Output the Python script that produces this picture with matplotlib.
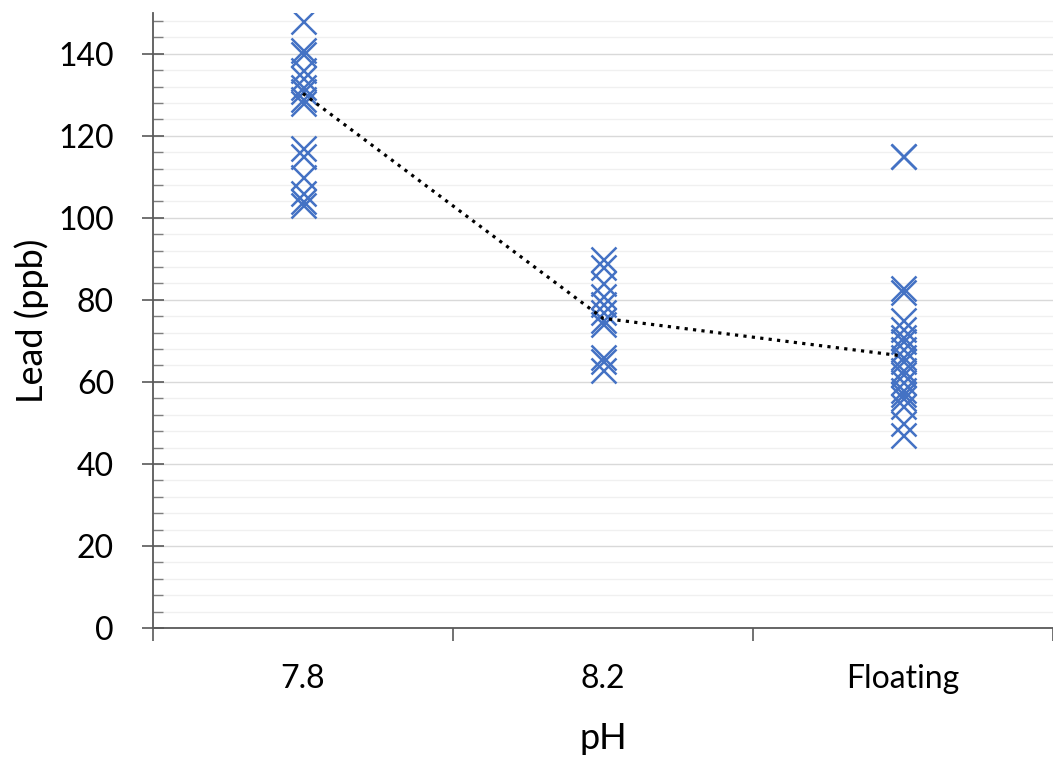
import matplotlib.pyplot as plt
from matplotlib.ticker import MultipleLocator, FixedLocator, NullFormatter

plt.rcParams['font.family'] = ['Lato', 'DejaVu Sans']

# categories on the x axis
groups = ['7.8', '8.2', 'Floating']

# lead readings (ppb) per group
lead_78 = [148, 141, 140, 136, 134, 132, 131, 129, 128, 117, 115, 110, 106, 104, 103]
lead_82 = [90, 88, 84, 81, 79, 77, 75, 74, 66, 65, 63]
lead_float = [115, 115, 83, 82, 75, 73, 71, 70, 68, 66, 65, 63, 62, 60, 58, 57, 56, 54, 50, 47]

# dotted trend line through the groups
trend = [130.3, 75.5, 66.3]

series = [lead_78, lead_82, lead_float]
blue = '#4472C4'

fig = plt.figure(figsize=(10.53, 7.59), dpi=100)
ax = fig.add_axes([0.1453, 0.1726, 0.8547, 0.8107])

for i, vals in enumerate(series):
    ax.plot([i + 1] * len(vals), vals, linestyle='none', marker='x',
            markersize=18, markeredgewidth=1.8, color=blue, zorder=3)

ax.plot(range(1, len(groups) + 1), trend, color='black', linestyle=':',
        linewidth=2.3, zorder=4)

ax.set_xlim(0.5, 3.5)
ax.set_ylim(0, 150)

# y axis: majors every 20, minors every 4
ax.yaxis.set_major_locator(MultipleLocator(20))
ax.yaxis.set_minor_locator(MultipleLocator(4))
ax.grid(which='major', axis='y', color='#d9d9d9', linewidth=1.0, zorder=0)
ax.grid(which='minor', axis='y', color='#f0f0f0', linewidth=1.0, zorder=0)
ax.tick_params(axis='y', which='major', direction='inout', length=16, width=1.2,
               color='#595959', labelsize=23, pad=20)
ax.tick_params(axis='y', which='minor', direction='in', length=7, width=1.0,
               color='#7f7f7f')

# x axis: ticks between categories, labels at the centres
ax.xaxis.set_major_locator(FixedLocator([0.5, 1.5, 2.5, 3.5]))
ax.xaxis.set_major_formatter(NullFormatter())
ax.xaxis.set_minor_locator(FixedLocator([1, 2, 3]))
ax.set_xticklabels(groups, minor=True)
ax.tick_params(axis='x', which='major', direction='out', length=9, width=1.2,
               color='#595959')
ax.tick_params(axis='x', which='minor', length=0, labelsize=23, pad=26)

for side in ['top', 'right']:
    ax.spines[side].set_visible(False)
for side in ['left', 'bottom']:
    ax.spines[side].set_color('#595959')
    ax.spines[side].set_linewidth(1.3)

ax.set_ylabel('Lead (ppb)', fontsize=26, labelpad=7)
ax.set_xlabel('pH', fontsize=26, labelpad=20)

fig.savefig('out.png', dpi=100)
